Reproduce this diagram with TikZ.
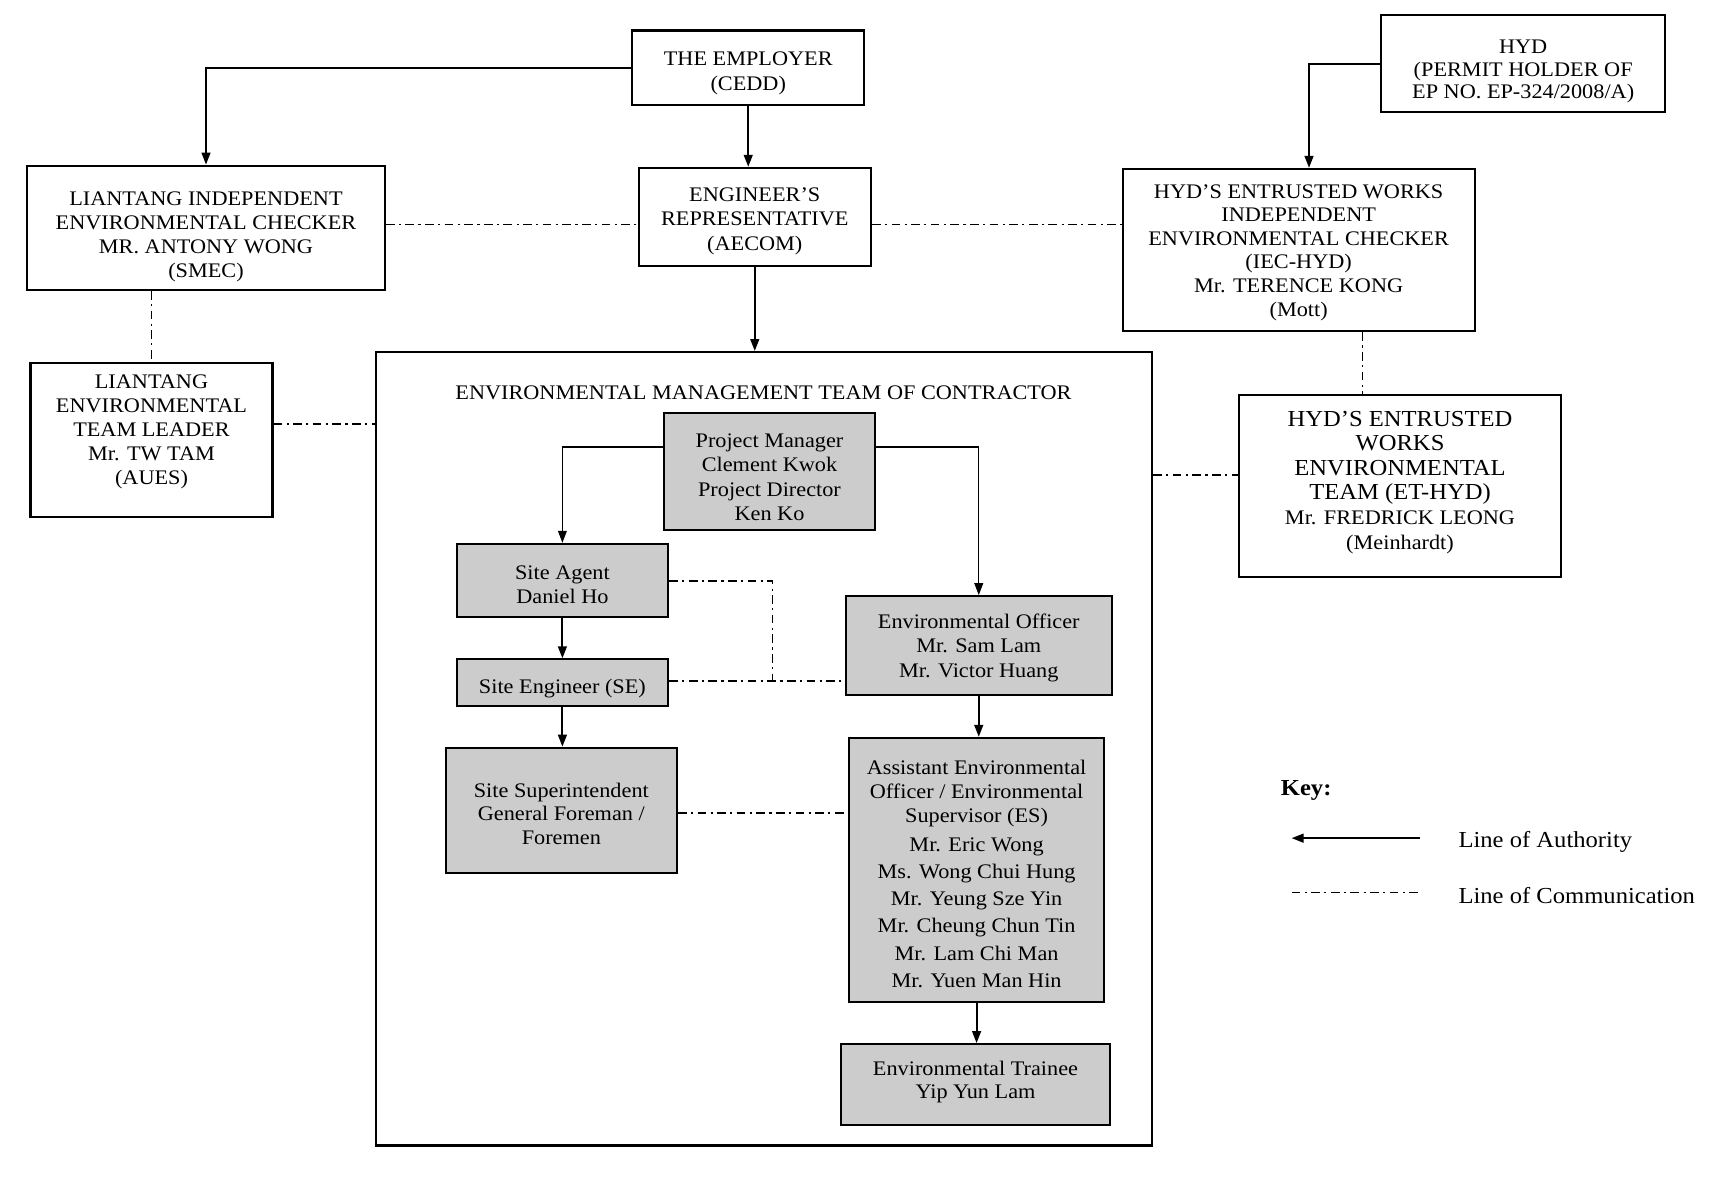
\documentclass[tikz,border=0pt]{standalone}
\usepackage{fontspec}
\setmainfont{Liberation Serif}[FakeStretch=1.075]
\usetikzlibrary{arrows.meta}
\newcommand{\dn}[1]{\rule{0pt}{#1}}
\newcommand{\upd}[1]{\rule[-#1]{0pt}{0pt}}
\begin{document}
\begin{tikzpicture}[x=1pt,y=-1pt,
  box/.style={draw,line width=1.9pt,align=center,inner sep=0pt,font=\fontsize{19}{22.5}\selectfont},
  gbox/.style={box,fill=gray!40},
  auth/.style={line width=1.9pt,-{Triangle[length=11pt,width=8pt]}},
  comm/.style={line width=1.6pt,dash pattern=on 8pt off 4pt on 2pt off 4pt},
  keytext/.style={anchor=west,inner sep=0pt,font=\fontsize{21}{24}\selectfont}]
\useasboundingbox[fill=white] (0,0) rectangle (1568,1091);

% top level
\node[box,minimum width=213pt,minimum height=68pt] (emp) at (686.5,62) {\dn{23pt}THE EMPLOYER\\(CEDD)};
\node[box,minimum width=213pt,minimum height=90pt] (er) at (692.5,199) {\dn{20pt}ENGINEER’S\\REPRESENTATIVE\\(AECOM)};
\node[box,minimum width=328pt,minimum height=114pt,font=\fontsize{19}{22}\selectfont] (liec) at (189,209) {\dn{29pt}LIANTANG INDEPENDENT\\ENVIRONMENTAL CHECKER\\MR. ANTONY WONG\\(SMEC)};
\node[box,minimum width=261pt,minimum height=89pt,font=\fontsize{19}{20.5}\selectfont] (hyd) at (1397.5,58.5) {\dn{27pt}HYD\\(PERMIT HOLDER OF\\EP NO. EP-324/2008/A)};
\node[box,minimum width=323pt,minimum height=149pt,font=\fontsize{19}{21.6}\selectfont] (hiec) at (1191.5,229.5) {\dn{17pt}HYD’S ENTRUSTED WORKS\\INDEPENDENT\\ENVIRONMENTAL CHECKER\\(IEC-HYD)\\Mr. TERENCE KONG\\(Mott)};
\node[box,minimum width=222pt,minimum height=141pt,font=\fontsize{19}{22}\selectfont] (leet) at (139,403.5) {LIANTANG\\ENVIRONMENTAL\\TEAM LEADER\\Mr. TW TAM\\(AUES)\upd{18pt}};
\node[box,minimum width=295pt,minimum height=167pt] (hyet) at (1284.5,445.5) {{\fontsize{21}{24}\selectfont HYD’S ENTRUSTED}\\{\fontsize{21}{24}\selectfont WORKS}\\{\fontsize{21}{24}\selectfont ENVIRONMENTAL}\\{\fontsize{21}{24}\selectfont TEAM (ET-HYD)}\\Mr. FREDRICK LEONG\\(Meinhardt)\upd{10pt}};

% contractor team
\node[draw,line width=1.9pt,minimum width=712pt,minimum height=728pt,inner sep=0pt] (cont) at (701,687) {};
\node[inner sep=0pt,font=\fontsize{19}{22.5}\selectfont] (ctitle) at (700.5,360) {ENVIRONMENTAL MANAGEMENT TEAM OF CONTRACTOR};

\node[gbox,minimum width=194pt,minimum height=107pt] (pm) at (706,432.5) {\dn{23pt}Project Manager\\Clement Kwok\\Project Director\\Ken Ko};
\node[gbox,minimum width=194pt,minimum height=67pt] (sa) at (516,532.5) {\dn{21pt}Site Agent\\Daniel Ho};
\node[gbox,minimum width=194pt,minimum height=43pt] (se) at (516,626.5) {\dn{23pt}Site Engineer (SE)};
\node[gbox,minimum width=212pt,minimum height=115pt,font=\fontsize{19}{21.5}\selectfont] (ss) at (515,743.5) {\dn{19pt}Site Superintendent\\General Foreman /\\Foremen};
\node[gbox,minimum width=244pt,minimum height=91pt] (eo) at (898,592.5) {\dn{17pt}Environmental Officer\\Mr. Sam Lam\\Mr. Victor Huang};
\node[gbox,minimum width=234pt,minimum height=242pt,font=\fontsize{19}{22}\selectfont] (aeo) at (896,798) {\dn{21pt}Assistant Environmental\\Officer / Environmental\\Supervisor (ES)\\[4pt]Mr. Eric Wong\\[3pt]Ms. Wong Chui Hung\\[3pt]Mr. Yeung Sze Yin\\[3pt]Mr. Cheung Chun Tin\\[3pt]Mr. Lam Chi Man\\[3pt]Mr. Yuen Man Hin};
\node[gbox,minimum width=246pt,minimum height=74pt,font=\fontsize{19}{21}\selectfont] (tr) at (895,995) {Environmental Trainee\\Yip Yun Lam\upd{8pt}};

% helper coordinates
\coordinate (c1) at (0,206);
\coordinate (c2) at (0,389);
\coordinate (c3) at (1250,0);
\coordinate (c4) at (0,436);
\coordinate (k1) at (0,410);
\coordinate (k2) at (0,533);
\coordinate (k3) at (709,625);
\coordinate (k5) at (0,746);
\coordinate (hx) at (1201,0);

% lines of authority
\draw[auth] (emp.west) -| (liec.north);
\draw[auth] (emp.south) -- (emp.south |- er.north);
\draw[auth] (er.south) -- (er.south |- cont.north);
\draw[auth] (hyd.west) -| (hx |- hiec.north);
\draw[auth,line width=1.3pt] (pm.west |- k1) -| (sa.north);
\draw[auth,line width=1.3pt] (pm.east |- k1) -| (eo.north);
\draw[auth] (sa.south) -- (se.north);
\draw[auth] (se.south) -- (se.south |- ss.north);
\draw[auth] (eo.south) -- (eo.south |- aeo.north);
\draw[auth] (aeo.south) -- (aeo.south |- tr.north);

% lines of communication
\draw[comm] (liec.east |- c1) -- (er.west |- c1);
\draw[comm] (er.east |- c1) -- (hiec.west |- c1);
\draw[comm,line width=1.2pt] (leet.north |- liec.south) -- (leet.north);
\draw[comm] (leet.east |- c2) -- (cont.west |- c2);
\draw[comm,line width=1.2pt] (c3 |- hiec.south) -- (c3 |- hyet.north);
\draw[comm] (cont.east |- c4) -- (hyet.west |- c4);
\draw[comm,line width=1.3pt] (sa.east |- k2) -| (k3);
\draw[comm] (se.east |- k3) -- (eo.west |- k3);
\draw[comm] (ss.east |- k5) -- (aeo.west |- k5);

% key
\node[keytext,font=\fontsize{21}{24}\selectfont\bfseries] (key) at (1175,725) {Key:};
\coordinate (ka1) at (1303,769);
\coordinate (ka2) at (1185,769);
\coordinate (kc1) at (1185,819);
\coordinate (kc2) at (1303,819);
\draw[auth] (ka1) -- (ka2);
\draw[comm,line width=1.3pt] (kc1) -- (kc2);
\node[keytext] (kauth) at (1338,772) {Line of Authority};
\node[keytext] (kcomm) at (1338,822) {Line of Communication};
\end{tikzpicture}
\end{document}
